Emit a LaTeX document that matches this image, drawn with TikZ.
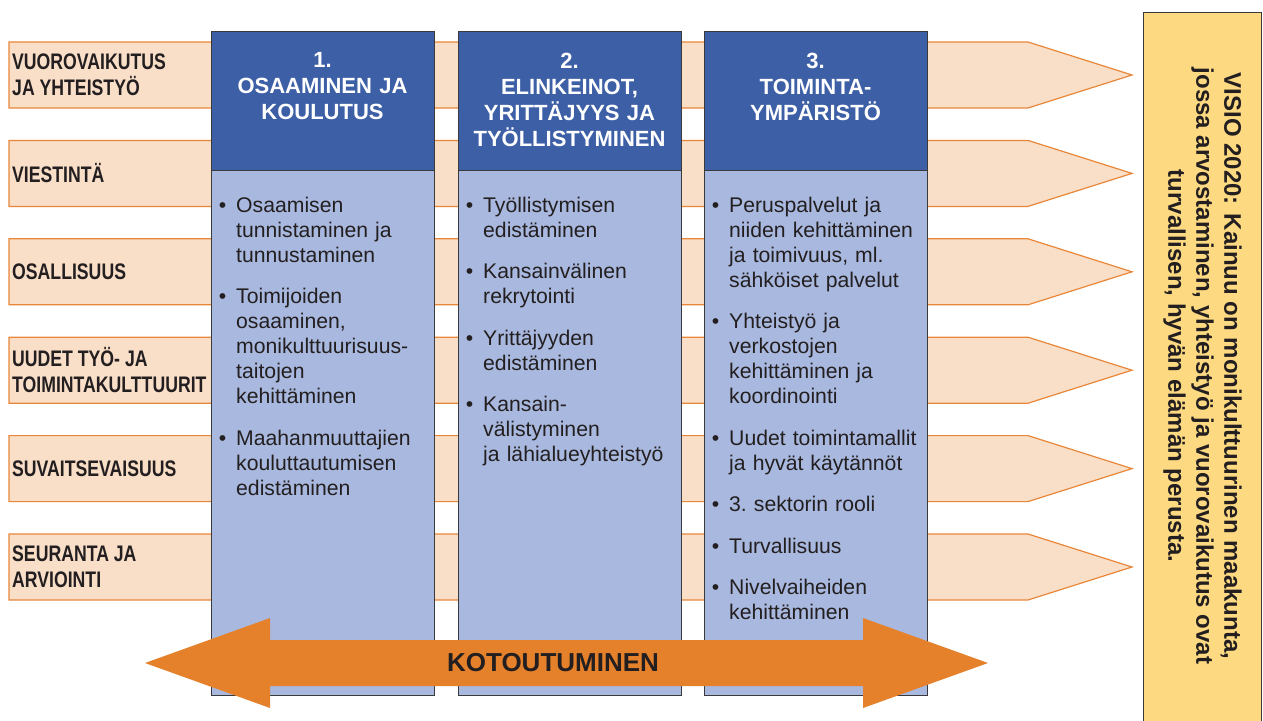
\documentclass[tikz,border=0pt]{standalone}
\usepackage{fontspec}
\setmainfont{Liberation Sans}
\newfontfamily\narrowfont[FakeStretch=0.785]{Liberation Sans}
\usepackage{enumitem}
\setlist[itemize]{label=\textbullet, leftmargin=25pt, labelsep=10pt, itemsep=16.5pt, parsep=0pt, topsep=0pt, partopsep=0pt}

\definecolor{bandfill}{HTML}{FADFC8}
\definecolor{bandline}{HTML}{E8873A}
\definecolor{headblue}{HTML}{3D5FA6}
\definecolor{bodyblue}{HTML}{A9B8DE}
\definecolor{visioyellow}{HTML}{FDD982}
\definecolor{arroworange}{HTML}{E5802B}
\definecolor{textdark}{HTML}{231F20}
\definecolor{frameline}{HTML}{3A3A3A}

\begin{document}
\begin{tikzpicture}[
        x=1pt, y=-1pt,
        band/.style={draw=bandline, fill=bandfill, line width=1.2pt},
        bandlabel/.style={anchor=west, align=left, inner sep=0pt, text=textdark,
            font=\narrowfont\bfseries\fontsize{22.5}{26}\selectfont},
        headbox/.style={draw=frameline, fill=headblue, line width=1pt},
        bodybox/.style={draw=frameline, fill=bodyblue, line width=1pt},
        headtext/.style={anchor=north, text width=220pt, align=center, inner sep=0pt,
            text=white, font=\bfseries\fontsize{22}{26}\selectfont},
        itemlist/.style={anchor=north west, text width=222pt, align=left, inner sep=0pt,
            text=textdark, font=\fontsize{21.2}{25}\selectfont},
        visiobox/.style={draw=frameline, fill=visioyellow, line width=1pt},
        visiotext/.style={rotate=-90, align=center, inner sep=0pt, text=textdark,
            font=\bfseries\fontsize{24}{28}\selectfont},
        bigarrow/.style={fill=arroworange},
        arrowtext/.style={inner sep=0pt, text=textdark, font=\bfseries\fontsize{26}{30}\selectfont}
    ]
    \useasboundingbox (0,0) rectangle (1263,720);

    % bands behind the columns
    \foreach \lbl [count=\i from 0] in {{VUOROVAIKUTUS\\JA YHTEISTYÖ}, VIESTINTÄ, OSALLISUUS,
            {UUDET TYÖ- JA\\TOIMINTAKULTTUURIT}, SUVAITSEVAISUUS, {SEURANTA JA\\ARVIOINTI}} {
        \pgfmathsetmacro{\t}{42+98.4*\i}
        \draw[band] (9,\t) -- (1028,\t) -- (1132,\t+33) -- (1028,\t+66) -- (9,\t+66) -- cycle;
        \node[bandlabel] (band\i) at (12,\t+33) {\lbl};
    }

    % columns
    \foreach \x [count=\c] in {211, 458, 704} {
        \draw[bodybox] (\x,170) rectangle (\x+223,695);
        \draw[headbox] (\x,31) rectangle (\x+223,170);
    }
    \node[headtext] (head1) at (322.5,52.5) {1.\\OSAAMINEN JA\\KOULUTUS};
    \node[headtext] (head2) at (569.5,52.5) {2.\\ELINKEINOT,\\YRITTÄJYYS JA\\TYÖLLISTYMINEN};
    \node[headtext] (head3) at (815.5,52.5) {3.\\TOIMINTA-\\YMPÄRISTÖ};

    \node[itemlist] (list1) at (211,187) {\begin{itemize}
        \item Osaamisen\\tunnistaminen ja\\tunnustaminen
        \item Toimijoiden\\osaaminen,\\monikulttuurisuus-\\taitojen\\kehittäminen
        \item Maahanmuuttajien\\kouluttautumisen\\edistäminen
    \end{itemize}};
    \node[itemlist] (list2) at (458,187) {\begin{itemize}
        \item Työllistymisen\\edistäminen
        \item Kansainvälinen\\rekrytointi
        \item Yrittäjyyden\\edistäminen
        \item Kansain-\\välistyminen\\ja lähialueyhteistyö
    \end{itemize}};
    \node[itemlist] (list3) at (704,187) {\begin{itemize}
        \item Peruspalvelut ja\\niiden kehittäminen\\ja toimivuus, ml.\\sähköiset palvelut
        \item Yhteistyö ja\\verkostojen\\kehittäminen ja\\koordinointi
        \item Uudet toimintamallit\\ja hyvät käytännöt
        \item 3.\ sektorin rooli
        \item Turvallisuus
        \item Nivelvaiheiden\\kehittäminen
    \end{itemize}};

    % double arrow
    \fill[bigarrow] (145,663) -- (270,618) -- (270,640) -- (863,640) -- (863,618) -- (988,663)
        -- (863,708) -- (863,686) -- (270,686) -- (270,708) -- cycle;
    \node[arrowtext] (kotout) at (553,663) {KOTOUTUMINEN};

    % vision
    \draw[visiobox] (1143,12) rectangle (1261.5,730);
    \node[visiotext] (visio) at (1202.5,366) {VISIO 2020: Kainuu on monikulttuurinen maakunta,\\
        jossa arvostaminen, yhteistyö ja vuorovaikutus ovat\\turvallisen, hyvän elämän perusta.};
\end{tikzpicture}
\end{document}
